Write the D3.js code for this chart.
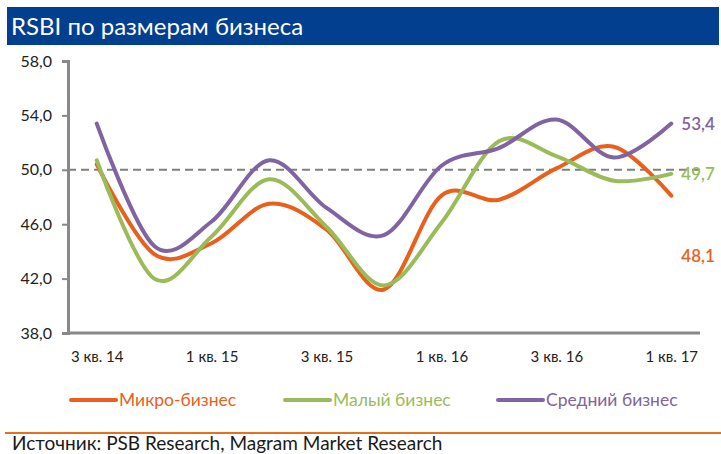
<!DOCTYPE html>
<html>
<head>
<meta charset="utf-8">
<script src="https://cdn.jsdelivr.net/npm/d3@7"></script>
<style>
  html, body { margin: 0; padding: 0; background: #fff; }
  svg { display: block; font-family: Lato, "Noto Sans", sans-serif; }
</style>
</head>
<body>
<div id="chart"></div>
<script>
const width = 721;
const height = 454;

// quarters, 3 кв. 14 .. 1 кв. 17
const quarters = ["3 кв. 14", "4 кв. 14", "1 кв. 15", "2 кв. 15", "3 кв. 15", "4 кв. 15",
  "1 кв. 16", "2 кв. 16", "3 кв. 16", "4 кв. 16", "1 кв. 17"];
const micro = [50.4, 43.8, 44.6, 47.5, 45.6, 41.2, 48.1, 47.8, 50.1, 51.7, 48.1];
const small = [50.7, 42.0, 45.1, 49.3, 45.8, 41.5, 46.1, 52.1, 51.0, 49.2, 49.7];
const medium = [53.4, 44.4, 46.2, 50.7, 47.2, 45.2, 50.3, 51.6, 53.7, 50.9, 53.4];
const yTicks = [38, 42, 46, 50, 54, 58];

const series = [
  { name: "Микро-бизнес", values: micro, color: "#E8601C" },
  { name: "Малый бизнес", values: small, color: "#9BBB59" },
  { name: "Средний бизнес", values: medium, color: "#8064A2" }
];

const svg = d3.select("#chart").append("svg")
  .attr("width", width)
  .attr("height", height);

// title bar
svg.append("rect")
  .attr("x", 7).attr("y", 7)
  .attr("width", 712).attr("height", 38)
  .attr("fill", "#023F8F");
svg.append("text")
  .attr("x", 11).attr("y", 35)
  .attr("fill", "#fff")
  .style("font-size", "24px")
  .text("RSBI по размерам бизнеса");

const x = d3.scalePoint().domain(quarters).range([68, 700]).padding(0.5);
const y = d3.scaleLinear().domain([38, 58]).range([333, 61]);

// dashed line at 50
svg.append("line")
  .attr("x1", 68).attr("x2", 700)
  .attr("y1", y(50)).attr("y2", y(50))
  .attr("stroke", "#808080")
  .attr("stroke-width", 2)
  .attr("stroke-dasharray", "8,5");

// y axis
const yAxis = svg.append("g")
  .attr("transform", "translate(68,0)")
  .call(d3.axisLeft(y).tickValues(yTicks).tickSize(6).tickPadding(10)
    .tickFormat(d => d.toFixed(1).replace(".", ",")));
yAxis.select(".domain").attr("stroke", "#888").attr("stroke-width", 3);
yAxis.selectAll(".tick line").attr("stroke", "#888").attr("stroke-width", 2);
yAxis.selectAll(".tick text")
  .attr("fill", "#222")
  .style("font-size", "16px")
  .style("font-family", "Lato, sans-serif");

// x axis
const xAxis = svg.append("g")
  .attr("transform", "translate(0,333)")
  .call(d3.axisBottom(x).tickSize(0).tickPadding(18)
    .tickFormat((d, i) => i % 2 === 0 ? d : ""));
xAxis.select(".domain")
  .attr("d", "M68,0H700")
  .attr("stroke", "#888").attr("stroke-width", 3);
xAxis.selectAll(".tick text")
  .attr("fill", "#222")
  .style("font-size", "15px")
  .style("font-family", "Lato, sans-serif");

// lines
const line = d3.line()
  .x((d, i) => x(quarters[i]))
  .y(d => y(d))
  .curve(d3.curveCardinal);

svg.selectAll(".series")
  .data(series)
  .enter()
  .append("path")
  .attr("class", "series")
  .attr("d", d => line(d.values))
  .attr("fill", "none")
  .attr("stroke", d => d.color)
  .attr("stroke-width", 4)
  .attr("stroke-linecap", "round");

// end labels
const endLabels = [
  { s: series[2], dy: 0 },
  { s: series[1], dy: 0 },
  { s: series[0], dy: 60 }
];
svg.selectAll(".end-label")
  .data(endLabels)
  .enter()
  .append("text")
  .attr("class", "end-label")
  .attr("x", x(quarters[10]) + 10)
  .attr("y", d => y(d.s.values[10]) + d.dy + 6)
  .attr("fill", d => d.s.color)
  .style("font-size", "17px")
  .style("font-weight", "600")
  .text(d => d.s.values[10].toFixed(1).replace(".", ","));

// legend
const legendX = [71, 285, 498];
const legend = svg.selectAll(".legend")
  .data(series)
  .enter()
  .append("g")
  .attr("class", "legend")
  .attr("transform", (d, i) => `translate(${legendX[i]},400)`);
legend.append("line")
  .attr("x1", 0).attr("x2", 45)
  .attr("stroke", d => d.color)
  .attr("stroke-width", 4)
  .attr("stroke-linecap", "round");
legend.append("text")
  .attr("x", 48).attr("y", 6)
  .attr("fill", d => d.color)
  .style("font-size", "17.5px")
  .text(d => d.name);

// source
svg.append("line")
  .attr("x1", 5).attr("x2", 721)
  .attr("y1", 433).attr("y2", 433)
  .attr("stroke", "#E8701C")
  .attr("stroke-width", 2);
svg.append("text")
  .attr("x", 12).attr("y", 450)
  .attr("fill", "#1a1a1a")
  .style("font-size", "19px")
  .text("Источник: PSB Research, Magram Market Research");
</script>
</body>
</html>
